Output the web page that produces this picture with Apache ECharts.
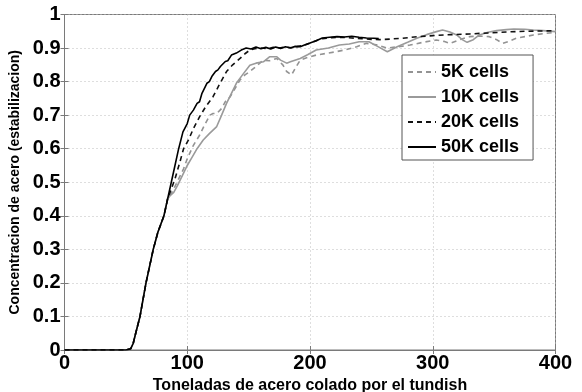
<!DOCTYPE html>
<html>
<head>
<meta charset="utf-8">
<script src="https://cdn.jsdelivr.net/npm/echarts@6/dist/echarts.min.js"></script>
<style>
  html, body { margin: 0; padding: 0; background: #fff; }
  #chart { width: 582px; height: 392px; }
</style>
</head>
<body>
<div id="chart"></div>
<script>
// Steel concentration at the tundish outlet vs. tonnes cast, for four mesh sizes.
const seriesNames = ['5K cells', '10K cells', '20K cells', '50K cells'];

const x5K = [0, 50, 54, 56, 58, 61.5, 66.4, 72.3, 76, 81, 84, 86, 89, 93, 97, 100, 105, 110, 114, 118.5, 121, 124, 128, 131, 135, 139, 143, 147, 151, 156, 162, 167, 173, 178, 181, 185, 188, 192, 198, 205, 213, 221, 229, 238, 246, 254, 263, 272, 281.5, 292, 303, 309, 314, 322, 330, 338, 346, 352, 357, 362, 368, 375, 382, 390, 398, 400];
const y5K = [0, 0, 0.004, 0.02, 0.05, 0.1, 0.2, 0.3, 0.35, 0.4, 0.45, 0.46, 0.48, 0.51, 0.54, 0.57, 0.61, 0.64, 0.67, 0.7, 0.705, 0.705, 0.72, 0.74, 0.755, 0.78, 0.805, 0.82, 0.83, 0.845, 0.864, 0.862, 0.869, 0.849, 0.83, 0.82, 0.84, 0.864, 0.872, 0.879, 0.884, 0.889, 0.895, 0.904, 0.914, 0.91, 0.9, 0.904, 0.909, 0.917, 0.924, 0.92, 0.914, 0.925, 0.934, 0.936, 0.934, 0.925, 0.914, 0.92, 0.929, 0.934, 0.939, 0.943, 0.946, 0.946];

const x10K = [0, 50, 54, 56, 58, 61.5, 66.4, 72.3, 76, 81, 84, 86, 89, 92, 96, 100, 104, 108, 113, 118, 124, 128, 132, 136, 140, 145, 151, 156, 162, 167, 173, 176, 181, 184, 192, 198, 205, 215, 224, 232, 240, 248, 255, 263, 271, 280, 287, 295, 303, 308, 314, 319.5, 324, 328, 333, 338, 345, 352, 360, 366, 375, 382, 390, 400];
const y10K = [0, 0, 0.004, 0.02, 0.05, 0.1, 0.2, 0.3, 0.35, 0.4, 0.45, 0.46, 0.47, 0.49, 0.52, 0.55, 0.575, 0.6, 0.626, 0.645, 0.666, 0.7, 0.735, 0.765, 0.795, 0.82, 0.849, 0.855, 0.859, 0.874, 0.874, 0.864, 0.855, 0.859, 0.869, 0.88, 0.894, 0.9, 0.909, 0.912, 0.919, 0.919, 0.905, 0.889, 0.904, 0.918, 0.929, 0.94, 0.949, 0.954, 0.948, 0.939, 0.925, 0.917, 0.925, 0.939, 0.947, 0.952, 0.955, 0.957, 0.956, 0.954, 0.952, 0.949];

const x20K = [0, 50, 54, 56, 58, 61.5, 66.4, 72.3, 76, 81, 84, 87, 90, 94, 97, 101, 105, 110, 115, 121, 126, 132, 137, 143, 147, 151, 155, 160, 165, 170, 175, 180, 185, 190, 195, 200, 205, 210, 218, 226, 234, 242, 250, 258, 266, 275, 285, 300, 315, 330, 345, 360, 375, 390, 400];
const y20K = [0, 0, 0.004, 0.02, 0.05, 0.1, 0.2, 0.3, 0.35, 0.4, 0.45, 0.48, 0.51, 0.56, 0.6, 0.626, 0.66, 0.695, 0.725, 0.755, 0.79, 0.83, 0.85, 0.869, 0.883, 0.894, 0.898, 0.9, 0.898, 0.902, 0.9, 0.903, 0.901, 0.905, 0.908, 0.915, 0.922, 0.928, 0.931, 0.932, 0.93, 0.928, 0.926, 0.925, 0.927, 0.929, 0.933, 0.937, 0.94, 0.942, 0.945, 0.948, 0.95, 0.951, 0.952];

const x50K = [0, 50, 54, 56, 58, 61.5, 66.4, 72.3, 76, 81, 84, 87, 90, 93, 96.5, 100, 102, 105, 108, 110, 112, 116, 118, 120, 123, 125, 127, 131, 133, 136, 140, 144, 148, 152, 156, 160, 164, 168, 172, 176, 180, 184, 188, 192, 196, 200, 205, 210, 216, 222, 228, 234, 240, 246, 252, 256];
const y50K = [0, 0, 0.004, 0.02, 0.05, 0.1, 0.2, 0.3, 0.35, 0.4, 0.45, 0.5, 0.55, 0.6, 0.65, 0.675, 0.7, 0.715, 0.735, 0.74, 0.765, 0.795, 0.8, 0.815, 0.83, 0.835, 0.845, 0.86, 0.862, 0.879, 0.885, 0.894, 0.9, 0.897, 0.903, 0.898, 0.902, 0.897, 0.903, 0.899, 0.904, 0.9, 0.905, 0.904, 0.91, 0.915, 0.922, 0.93, 0.932, 0.934, 0.933, 0.935, 0.932, 0.93, 0.929, 0.928];

const xTicks = [0, 100, 200, 300, 400];
const yTicks = [0, 0.1, 0.2, 0.3, 0.4, 0.5, 0.6, 0.7, 0.8, 0.9, 1];

const FONT = '"Liberation Sans", Arial, Helvetica, sans-serif';
const AXIS_GREY = '#7a7a7a';
const zip = (xs, ys) => xs.map((x, i) => [x, ys[i]]);

const styles = [
  { color: '#939393', type: [5, 4] },
  { color: '#9a9a9a', type: 'solid' },
  { color: '#111111', type: [5, 4] },
  { color: '#000000', type: 'solid' }
];
const dataSets = [zip(x5K, y5K), zip(x10K, y10K), zip(x20K, y20K), zip(x50K, y50K)];

const gridLine = { show: true, lineStyle: { color: '#bdbdbd', type: [1, 3], width: 1 } };
const innerTick = { show: true, inside: true, length: 4, lineStyle: { color: AXIS_GREY } };
const axisLine = { show: true, lineStyle: { color: AXIS_GREY, width: 1 } };

// Mirror axes on the top and right carry only the inward tick marks of the frame.
const mirrorX = {
  type: 'value', position: 'top', min: xTicks[0], max: xTicks[xTicks.length - 1], interval: 100,
  axisLine, axisTick: innerTick, axisLabel: { show: false }, splitLine: { show: false }
};
const mirrorY = {
  type: 'value', position: 'right', min: yTicks[0], max: yTicks[yTicks.length - 1], interval: 0.1,
  axisLine, axisTick: innerTick, axisLabel: { show: false }, splitLine: { show: false }
};

const chart = echarts.init(document.getElementById('chart'), null, { renderer: 'canvas' });
chart.setOption({
  animation: false,
  backgroundColor: '#fff',
  grid: {
    left: 64.5, top: 14.5, right: 26.5, bottom: 42,
    outerBoundsMode: 'none',
    containLabel: false,
    show: true, borderColor: AXIS_GREY, borderWidth: 1, backgroundColor: 'transparent'
  },
  legend: {
    data: seriesNames,
    orient: 'vertical',
    left: 402, top: 55,
    padding: [7, 14, 3, 5],
    itemWidth: 28, itemHeight: 14, itemGap: 5,
    itemStyle: { opacity: 0 },
    backgroundColor: '#fff',
    borderColor: '#555', borderWidth: 1,
    textStyle: { fontFamily: FONT, fontWeight: 'bold', fontSize: 18, color: '#000', lineHeight: 20 }
  },
  xAxis: [{
    type: 'value', position: 'bottom', min: xTicks[0], max: xTicks[xTicks.length - 1], interval: 100,
    name: 'Toneladas de acero colado por el tundish',
    nameLocation: 'middle', nameGap: 23,
    nameTextStyle: { fontFamily: FONT, fontWeight: 'bold', fontSize: 16, color: '#000', verticalAlign: 'top' },
    axisLine,
    axisTick: innerTick,
    axisLabel: { fontFamily: FONT, fontWeight: 'bold', fontSize: 20, color: '#000', margin: 3 },
    splitLine: gridLine
  }, mirrorX],
  yAxis: [{
    type: 'value', position: 'left', min: yTicks[0], max: yTicks[yTicks.length - 1], interval: 0.1,
    name: 'Concentracion de acero (estabilizacion)',
    nameLocation: 'middle', nameGap: 36,
    nameTextStyle: { fontFamily: FONT, fontWeight: 'bold', fontSize: 14, color: '#000' },
    axisLine,
    axisTick: innerTick,
    axisLabel: {
      fontFamily: FONT, fontWeight: 'bold', fontSize: 20, color: '#000', margin: 4,
      formatter: v => (v === 0 || v === 1) ? String(v) : v.toFixed(1)
    },
    splitLine: gridLine
  }, mirrorY],
  series: seriesNames.map((name, i) => ({
    name,
    type: 'line',
    data: dataSets[i],
    symbol: 'none',
    smooth: false,
    z: 2 + i,
    lineStyle: { color: styles[i].color, type: styles[i].type, width: 1.6 },
    itemStyle: { color: styles[i].color }
  }))
});
</script>
</body>
</html>
